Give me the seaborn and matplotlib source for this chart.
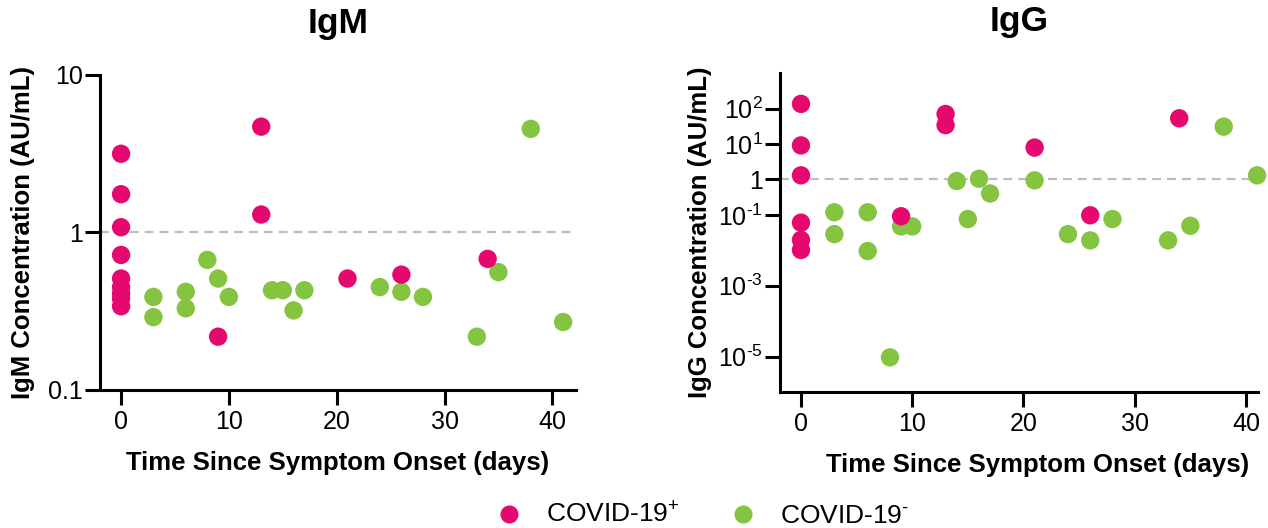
import matplotlib
matplotlib.use("Agg")
import matplotlib.pyplot as plt
from matplotlib.lines import Line2D
import seaborn as sns
import pandas as pd

# IgM, COVID-19 positive / negative
igm_pos_day = [0, 0, 0, 0, 0, 0, 0, 0, 0, 9, 13, 13, 21, 26, 34]
igm_pos_val = [3.16, 1.75, 1.08, 0.72, 0.51, 0.45, 0.41, 0.38, 0.34, 0.218, 4.7, 1.30, 0.51, 0.54, 0.68]
igm_neg_day = [3, 3, 6, 6, 8, 9, 10, 14, 15, 16, 17, 24, 26, 28, 33, 35, 38, 41]
igm_neg_val = [0.39, 0.29, 0.42, 0.33, 0.67, 0.51, 0.39, 0.43, 0.43, 0.32, 0.43, 0.45, 0.42, 0.39, 0.218, 0.56, 4.55, 0.27]

# IgG, COVID-19 positive / negative
igg_pos_day = [0, 0, 0, 0, 0, 0, 9, 13, 13, 21, 26, 34]
igg_pos_val = [135, 9.1, 1.3, 0.060, 0.0196, 0.0102, 0.091, 70, 34, 7.9, 0.097, 53]
igg_neg_day = [3, 3, 6, 6, 8, 9, 10, 14, 15, 16, 17, 21, 24, 26, 28, 33, 35, 38, 41]
igg_neg_val = [0.118, 0.0285, 0.118, 0.0095, 9.5e-6, 0.047, 0.047, 0.9, 0.076, 1.04, 0.4, 0.94,
               0.0285, 0.019, 0.076, 0.019, 0.049, 30.8, 1.3]

groups = [r"COVID-19$^{\text{+}}$", r"COVID-19$^{\text{-}}$"]
colors = {groups[0]: "#E4086F", groups[1]: "#84C441"}

igm_ticks = [0.1, 1, 10]
igm_ticklabels = ["0.1", "1", "10"]
igg_ticks = [1e-5, 1e-3, 1e-1, 1, 10, 100]
igg_ticklabels = [r"10$^{\text{-5}}$", r"10$^{\text{-3}}$", r"10$^{\text{-1}}$",
                  "1", r"10$^{\text{1}}$", r"10$^{\text{2}}$"]
day_ticks = [0, 10, 20, 30, 40]


def make_df(pd_day, pd_val, nd_day, nd_val):
    # negatives first so positives are drawn on top
    return pd.DataFrame({
        "day": nd_day + pd_day,
        "val": nd_val + pd_val,
        "group": [groups[1]] * len(nd_day) + [groups[0]] * len(pd_day),
    })


igm_df = make_df(igm_pos_day, igm_pos_val, igm_neg_day, igm_neg_val)
igg_df = make_df(igg_pos_day, igg_pos_val, igg_neg_day, igg_neg_val)

sns.set_style("ticks")
plt.rcParams["font.family"] = ["Liberation Sans", "DejaVu Sans"]
plt.rcParams["mathtext.fontset"] = "custom"
plt.rcParams["mathtext.rm"] = "Liberation Sans"
plt.rcParams["mathtext.it"] = "Liberation Sans:italic"
plt.rcParams["mathtext.bf"] = "Liberation Sans:bold"
plt.rcParams["text.color"] = "black"
plt.rcParams["axes.labelcolor"] = "black"
plt.rcParams["xtick.color"] = "black"
plt.rcParams["ytick.color"] = "black"
plt.rcParams["axes.edgecolor"] = "black"

fig = plt.figure(figsize=(12.68, 5.28), dpi=100)
ax1 = fig.add_axes([0.0789, 0.2614, 0.3754, 0.5966])
ax2 = fig.add_axes([0.6151, 0.2576, 0.3770, 0.6040])

panels = [
    (ax1, igm_df, "IgM", "IgM Concentration (AU/mL)", (0.1, 10), igm_ticks, igm_ticklabels, (-1.95, 42.2), 9),
    (ax2, igg_df, "IgG", "IgG Concentration (AU/mL)", (1e-6, 1e3), igg_ticks, igg_ticklabels, (-1.89, 41.08), 4),
]

for ax, df, title, ylabel, ylim, yt, ytl, xlim, ypad in panels:
    ax.axhline(1, color="#BDBDBD", lw=1.6, ls=(0, (4, 2.7)), zorder=1)
    sns.scatterplot(data=df, x="day", y="val", hue="group", palette=colors, s=175,
                    linewidth=0, alpha=1, legend=False, ax=ax, clip_on=False, zorder=3)
    ax.set_yscale("log")
    ax.set_ylim(*ylim)
    ax.set_xlim(*xlim)
    ax.set_yticks(yt)
    ax.set_yticklabels(ytl)
    ax.minorticks_off()
    ax.set_xticks(day_ticks)
    ax.tick_params(axis="both", length=10.5, width=2.2, labelsize=18, pad=2)
    ax.tick_params(axis="x", pad=4)
    for side in ["left", "bottom"]:
        ax.spines[side].set_linewidth(2.2)
    sns.despine(ax=ax)
    ax.set_title(title, fontsize=25.5, fontweight="bold", pad=30)
    ax.set_xlabel("Time Since Symptom Onset (days)", fontsize=18.5, fontweight="bold", labelpad=12)
    ax.set_ylabel(ylabel, fontsize=18.5, fontweight="bold", labelpad=ypad)

# the right panel's x label sits a bit right of centre and lower
ax2.xaxis.set_label_coords(0.538, -0.19)

handles = [Line2D([], [], marker="o", ls="", markersize=13, markerfacecolor=colors[g],
                  markeredgewidth=0) for g in groups]
fig.legend(handles, groups, loc="center", bbox_to_anchor=(0.5485, 0.024), ncol=2, frameon=False,
           fontsize=19, handletextpad=0.4, columnspacing=1.4)

fig.savefig("out.png", dpi=100)
